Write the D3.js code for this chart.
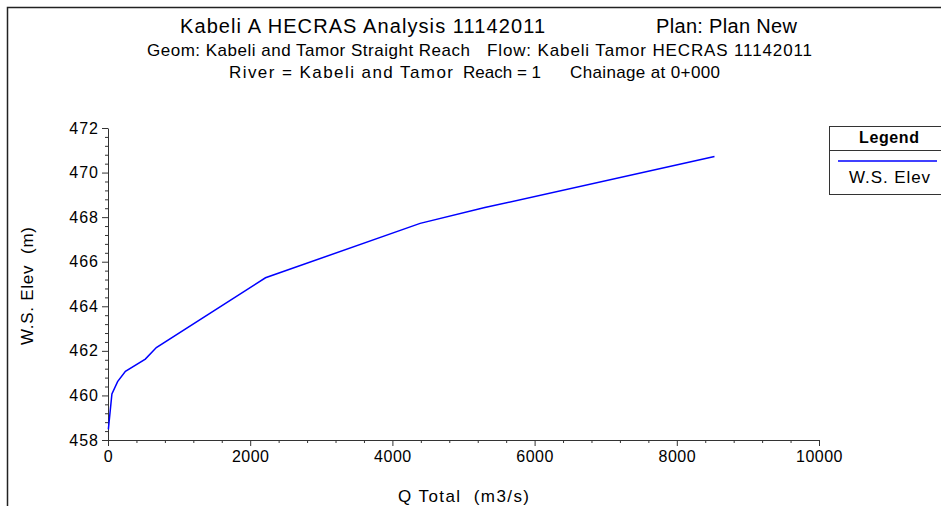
<!DOCTYPE html>
<html>
<head>
<meta charset="utf-8">
<script src="https://cdn.jsdelivr.net/npm/d3@7"></script>
<style>
  body { margin: 0; background: #fff; }
  svg text { font-family: "Liberation Sans", Arial, sans-serif; fill: #000; white-space: pre; }
</style>
</head>
<body>
<svg id="chart" width="941" height="506"></svg>
<script>
// chart values
var flow = [5, 55, 135, 245, 525, 680, 2215, 4390, 5300, 8530];
var wsElev = [458.48, 460.07, 460.62, 461.08, 461.63, 462.15, 465.28, 467.72, 468.43, 470.72];
var xTicks = [0, 2000, 4000, 6000, 8000, 10000];
var yTicks = [458, 460, 462, 464, 466, 468, 470, 472];
var titleParts = [
    ["Kabeli A HECRAS Analysis 11142011", "Plan: Plan New"],
    ["Geom: Kabeli and Tamor Straight Reach", "Flow: Kabeli Tamor HECRAS 11142011"],
    ["River = Kabeli and Tamor", "Reach = 1", "Chainage at 0+000"]
];
var seriesName = "W.S. Elev";

var conf = {
    left: 108,
    right: 819,
    top: 128,
    bottom: 440,
    majorTick: 6,
    minorTick: 3
};

// where each title piece sits: [x start, x end], one row per title line
var titleSpans = [
    [[180, 545], [656, 797]],
    [[147, 470], [487, 812]],
    [[229, 453], [463, 541], [570, 720]]
];
var titleSizes = [20, 17, 17];
var titleY = [33, 56, 78];

var svg = d3.select('#chart');

/**
 * Puts a text that fills exactly the span [x0, x1]
 */
var spanText = function(g, str, x0, x1, yPos, size){
    return g.append("text")
        .attr("x", x0)
        .attr("y", yPos)
        .attr("textLength", x1 - x0)
        .attr("lengthAdjust", "spacing")
        .style("font-size", size + "px")
        .text(str);
};

// outer frame (only top and left edges are in view)
svg.append("path")
    .attr("d", "M7.5,506 V7.5 H941")
    .attr("fill", "none")
    .attr("stroke", "#222")
    .attr("stroke-width", 1.5);

var x = d3.scaleLinear().domain([0, 10000]).range([conf.left, conf.right]);
var y = d3.scaleLinear().domain([458, 472]).range([conf.bottom, conf.top]);

// titles
titleParts.forEach(function(parts, i){
    parts.forEach(function(t, j){
        spanText(svg, t, titleSpans[i][j][0], titleSpans[i][j][1], titleY[i], titleSizes[i]);
    });
});

// minor ticks every 400 m3/s and 0.4 m
var xMinor = d3.range(0, 10001, 400).filter(function(v){ return v % 2000 !== 0; });
var yMinor = d3.range(0, 36).map(function(i){ return 458 + i * 0.4; })
    .filter(function(v){ return Math.abs(v / 2 - Math.round(v / 2)) > 0.01; });

var xAxis = svg.append("g")
    .attr("transform", "translate(0," + conf.bottom + ")")
    .call(d3.axisBottom(x).tickValues(xTicks).tickSize(conf.majorTick).tickSizeOuter(0).tickPadding(5).tickFormat(d3.format("d")));
xAxis.selectAll("text").style("font-size", "16px").style("letter-spacing", "0.5px").attr("fill", "#000");

svg.append("g")
    .attr("transform", "translate(0," + conf.bottom + ")")
    .call(d3.axisBottom(x).tickValues(xMinor).tickSize(conf.minorTick).tickFormat(""))
    .call(function(g){ g.select(".domain").remove(); });

var yAxis = svg.append("g")
    .attr("transform", "translate(" + conf.left + ",0)")
    .call(d3.axisLeft(y).tickValues(yTicks).tickSize(conf.majorTick).tickSizeOuter(0).tickPadding(3).tickFormat(d3.format("d")));
yAxis.selectAll("text").style("font-size", "16px").style("letter-spacing", "1px").attr("fill", "#000");

svg.append("g")
    .attr("transform", "translate(" + conf.left + ",0)")
    .call(d3.axisLeft(y).tickValues(yMinor).tickSize(conf.minorTick).tickFormat(""))
    .call(function(g){ g.select(".domain").remove(); });

svg.selectAll(".domain, .tick line").attr("stroke", "#333");

// axis titles
spanText(svg, "Q Total  (m3/s)", 398, 529, 502, 17);

svg.append("text")
    .attr("transform", "translate(33,345) rotate(-90)")
    .attr("textLength", 118)
    .attr("lengthAdjust", "spacing")
    .style("font-size", "17px")
    .text("W.S. Elev  (m)");

// the water surface curve
var line = d3.line()
    .x(function(d){ return x(d[0]); })
    .y(function(d){ return y(d[1]); });

svg.append("path")
    .datum(d3.zip(flow, wsElev))
    .attr("fill", "none")
    .attr("stroke", "#0000ff")
    .attr("stroke-width", 1.5)
    .attr("d", line);

// legend
var lg = svg.append("g");
lg.append("rect")
    .attr("x", 829.5)
    .attr("y", 126.5)
    .attr("width", 120)
    .attr("height", 68)
    .attr("fill", "#fff")
    .attr("stroke", "#333");
lg.append("line")
    .attr("x1", 829.5).attr("x2", 941)
    .attr("y1", 150.5).attr("y2", 150.5)
    .attr("stroke", "#333");
spanText(lg, "Legend", 859, 919, 143, 16).style("font-weight", "bold");
lg.append("line")
    .attr("x1", 838).attr("x2", 937)
    .attr("y1", 161).attr("y2", 161)
    .attr("stroke", "#0000ff")
    .attr("stroke-width", 1.5);
spanText(lg, seriesName, 849, 930, 183, 17);
</script>
</body>
</html>
